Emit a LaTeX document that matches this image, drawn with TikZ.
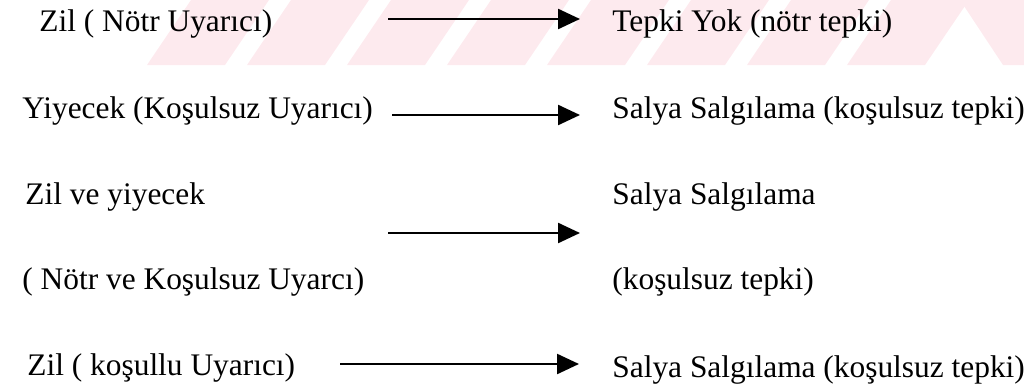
\documentclass[tikz,border=0pt]{standalone}
\usepackage{fontspec}
\setmainfont{Liberation Serif}
\usepackage{tikz}
\usetikzlibrary{arrows.meta}
\usepackage{xcolor}

\definecolor{wmpink}{RGB}{253,234,238}

\tikzset{
  lbl/.style={anchor=base west, inner sep=0pt, font=\fontsize{15.7}{18}\selectfont},
  arr/.style={line width=1.2pt, -{Triangle[length=11pt,width=10pt]}}
}

\begin{document}
\begin{tikzpicture}[x=0.5pt,y=-0.5pt]
\useasboundingbox (0,0) rectangle (1024,391);

% faint stripes along the top
\begin{scope}
\clip (147,0) rectangle (1024,65);
\foreach \k in {0,...,7}{
  \fill[wmpink] ({147+100*\k},65) -- ({225+100*\k},65) -- ({269+100*\k},0) -- ({191+100*\k},0) -- cycle;
}
\fill[wmpink] (960,0) -- (1024,0) -- (1024,65) -- (1003,65) -- cycle;
\end{scope}

% stimuli
\node[lbl] (s1) at (39,32) {Zil ( Nötr Uyarıcı)};
\node[lbl] (s2) at (22,119) {Yiyecek (Koşulsuz Uyarıcı)};
\node[lbl] (s3) at (25,204) {Zil ve yiyecek};
\node[lbl] (s4) at (22,289) {( Nötr ve Koşulsuz Uyarcı)};
\node[lbl] (s5) at (27,375) {Zil ( koşullu Uyarıcı)};

% responses
\node[lbl] (t1) at (612,32) {Tepki Yok (nötr tepki)};
\node[lbl] (t2) at (612,119) {Salya Salgılama (koşulsuz tepki)};
\node[lbl] (t3) at (612,204) {Salya Salgılama};
\node[lbl] (t4) at (612,289) {(koşulsuz tepki)};
\node[lbl] (t5) at (612,377) {Salya Salgılama (koşulsuz tepki)};

\coordinate (a1s) at (388,19);  \coordinate (a1e) at (580,19);
\coordinate (a2s) at (392,115); \coordinate (a2e) at (580,115);
\coordinate (a3s) at (388,233); \coordinate (a3e) at (580,233);
\coordinate (a4s) at (340,364); \coordinate (a4e) at (579,364);

\draw[arr] (a1s) -- (a1e);
\draw[arr] (a2s) -- (a2e);
\draw[arr] (a3s) -- (a3e);
\draw[arr] (a4s) -- (a4e);

\end{tikzpicture}
\end{document}
